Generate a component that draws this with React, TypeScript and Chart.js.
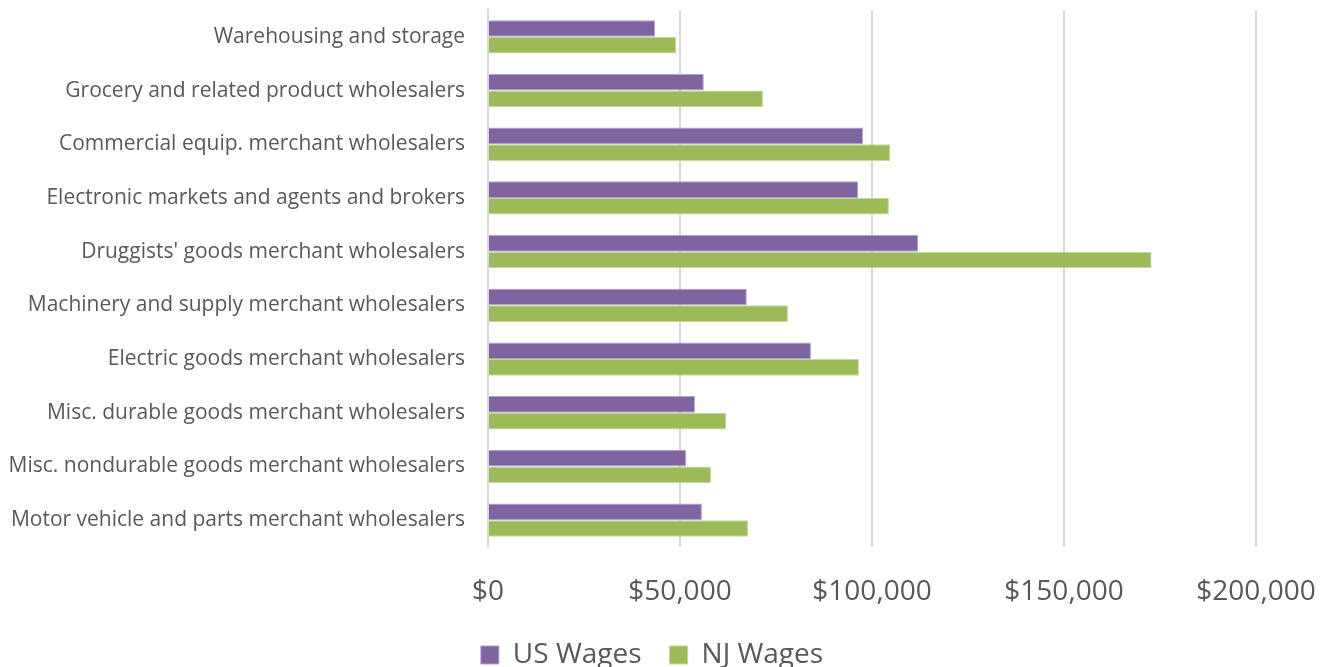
import React, { useEffect, useRef } from "react";
import { Chart, registerables } from "chart.js";

Chart.register(...registerables);

const categories = [
  "Warehousing and storage",
  "Grocery and related product wholesalers",
  "Commercial equip. merchant wholesalers",
  "Electronic markets and agents and brokers",
  "Druggists' goods merchant wholesalers",
  "Machinery and supply merchant wholesalers",
  "Electric goods merchant wholesalers",
  "Misc. durable goods merchant wholesalers",
  "Misc. nondurable goods merchant wholesalers",
  "Motor vehicle and parts merchant wholesalers",
];

const usWages = [43500, 56200, 97700, 96400, 112000, 67400, 84100, 53900, 51600, 55700];
const njWages = [49000, 71600, 104700, 104400, 172800, 78100, 96600, 62000, 58100, 67700];

const seriesNames = ["US Wages", "NJ Wages"];

const legendFit = {
  id: "legendFit",
  beforeInit(chart: any) {
    const legend = chart.legend;
    if (!legend) return;
    const orig = legend.fit;
    legend.fit = function () {
      orig.call(this);
      this.height = 54;
    };
  },
  afterLayout(chart: any) {
    const legend = chart.legend;
    if (!legend) return;
    legend.left += 24;
    legend.right += 24;
  },
};

export default function App() {
  const ref = useRef<HTMLCanvasElement | null>(null);

  useEffect(() => {
    if (!ref.current) return;
    const font = "'Open Sans', sans-serif";
    const chart = new Chart(ref.current, {
      type: "bar",
      data: {
        labels: categories,
        datasets: [
          {
            label: seriesNames[0],
            data: usWages,
            backgroundColor: "#8064A2",
            borderColor: "#B3A2C8",
            borderWidth: 1,
          },
          {
            label: seriesNames[1],
            data: njWages,
            backgroundColor: "#9BBB59",
            borderColor: "#C4D89D",
            borderWidth: 1,
          },
        ],
      },
      plugins: [legendFit],
      options: {
        indexAxis: "y",
        animation: false,
        responsive: false,
        maintainAspectRatio: false,
        layout: { padding: { top: 10, right: 64, left: 0, bottom: 0 } },
        datasets: { bar: { categoryPercentage: 0.62, barPercentage: 1 } },
        scales: {
          x: {
            min: 0,
            max: 200000,
            afterFit: (s: any) => {
              s.height = 66;
              s.paddingLeft = 0;
              s.paddingRight = 0;
            },
            ticks: {
              stepSize: 50000,
              color: "#595959",
              font: { family: font, size: 28 },
              padding: 28,
              maxRotation: 0,
              callback: (v: any) => "$" + Number(v).toLocaleString("en-US"),
            },
            grid: { color: "#D9D9D9", lineWidth: 2, drawTicks: false },
            border: { display: false },
          },
          y: {
            afterFit: (s: any) => {
              s.width = 488;
              s.paddingTop = 0;
              s.paddingBottom = 0;
            },
            ticks: {
              color: "#595959",
              font: { family: font, size: 21 },
              padding: 23,
            },
            grid: { display: false, drawTicks: false },
            border: { display: true, color: "#D9D9D9", width: 2 },
          },
        },
        plugins: {
          legend: {
            position: "bottom",
            labels: {
              color: "#595959",
              font: { family: font, size: 28 },
              boxWidth: 18,
              boxHeight: 18,
              padding: 28,
            },
          },
          tooltip: { enabled: false },
        },
      },
    });
    return () => chart.destroy();
  }, []);

  return (
    <div style={{ position: "fixed", left: 0, top: 0, width: 1320, height: 667, background: "#fff" }}>
      <canvas ref={ref} width={1320} height={667} style={{ width: 1320, height: 667 }} />
    </div>
  );
}
